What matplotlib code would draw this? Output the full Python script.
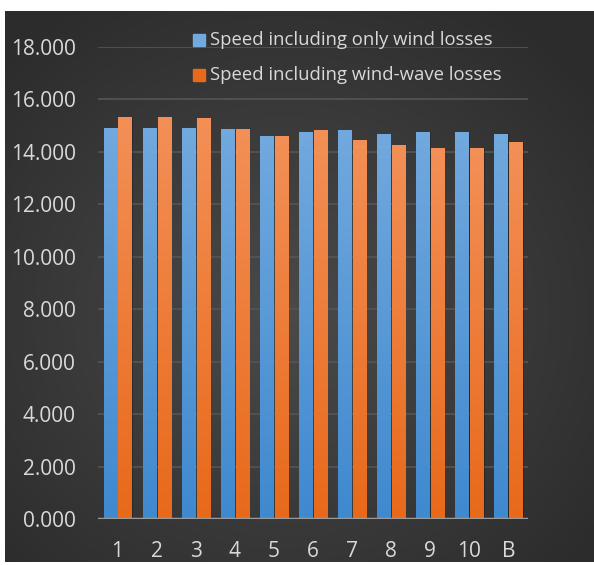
import numpy as np
import matplotlib

matplotlib.use("Agg")

import matplotlib.pyplot as plt
from matplotlib.colors import LinearSegmentedColormap
from matplotlib.patches import Rectangle

# ── data ─────────────────────────────────────────────────────────────────────

categories = ["1", "2", "3", "4", "5", "6", "7", "8", "9", "10", "B"]
wind_only = [14.92, 14.92, 14.92, 14.89, 14.62, 14.77, 14.85, 14.69, 14.77, 14.77, 14.69]
wind_wave = [15.34, 15.34, 15.31, 14.89, 14.62, 14.85, 14.47, 14.27, 14.16, 14.16, 14.39]
series_labels = ["Speed including only wind losses", "Speed including wind-wave losses"]
yticks = np.arange(0, 18.1, 2)

FONT = ["Open Sans", "DejaVu Sans"]
TEXT_COLOR = "#d9d9d9"
BLUE_TOP, BLUE_BOT = "#72a9de", "#3f89cf"
ORANGE_TOP, ORANGE_BOT = "#f39057", "#e8691a"


def gradient_bars(ax, bars, top, bottom):
    cmap = LinearSegmentedColormap.from_list("g", [bottom, top])
    grad = np.linspace(0, 1, 256).reshape(-1, 1)
    for b in bars:
        x0, y0 = b.get_x(), b.get_y()
        w, h = b.get_width(), b.get_height()
        # soft shadow to the right
        ax.add_patch(Rectangle((x0 + 0.03, y0), w, h, color="black", alpha=0.25,
                               zorder=2, lw=0))
        im = ax.imshow(grad, cmap=cmap, extent=(x0, x0 + w, y0, y0 + h),
                       origin="lower", aspect="auto", zorder=3)
        im.set_clip_path(b)
        b.set_facecolor("none")


def main():
    fig = plt.figure(figsize=(5.94, 5.65), dpi=100)
    fig.patch.set_facecolor("white")

    # dark radial background panel
    bg = fig.add_axes([5 / 594, 3 / 565, 589 / 594, 551 / 565])
    yy, xx = np.mgrid[-1:1:300j, -1:1:300j]
    r = np.sqrt((xx + 0.05) ** 2 + (yy - 0.1) ** 2)
    bgcmap = LinearSegmentedColormap.from_list("bg", ["#4a4a4a", "#2c2c2c"])
    bg.imshow(r, cmap=bgcmap, extent=(0, 1, 0, 1), aspect="auto", vmin=0, vmax=1.35)
    bg.set_axis_off()

    ax = fig.add_axes([98 / 594, 46 / 565, 430 / 594, 472 / 565])
    ax.patch.set_alpha(0)

    x = np.arange(len(categories))
    bw = 0.335
    b1 = ax.bar(x - 0.19, wind_only, bw, zorder=3, lw=0)
    b2 = ax.bar(x + 0.19, wind_wave, bw, zorder=3, lw=0)
    gradient_bars(ax, b1, BLUE_TOP, BLUE_BOT)
    gradient_bars(ax, b2, ORANGE_TOP, ORANGE_BOT)

    ax.set_xlim(-0.5, len(categories) - 0.5)
    ax.set_ylim(0, 18)
    ax.set_yticks(yticks)
    ax.set_yticklabels([f"{v:.3f}" for v in yticks], family=FONT, fontsize=15,
                       color=TEXT_COLOR)
    ax.set_xticks(x)
    ax.set_xticklabels(categories, family=FONT, fontsize=15, color=TEXT_COLOR)
    ax.tick_params(length=0, axis="y", pad=16)
    ax.tick_params(length=0, axis="x", pad=16)
    for s in ax.spines.values():
        s.set_visible(False)
    ax.grid(True, axis="y", color="#555555", lw=1.2, zorder=0)
    ax.axhline(0, color="#9a9a9a", lw=2.5, zorder=4)

    # legend drawn as marker squares + text (overlapping the plot, as in reference)
    for i, (lab, col) in enumerate(zip(series_labels, [BLUE_TOP, ORANGE_BOT])):
        yc = 565 - (40 + 35 * i)
        fig.patches.append(Rectangle((193 / 594, (yc - 6) / 565), 12 / 594, 12 / 565,
                                     transform=fig.transFigure, color=col))
        fig.text(210 / 594, yc / 565, lab, family=FONT, fontsize=13.3,
                 color=TEXT_COLOR, va="center", ha="left")

    fig.savefig("out.png", dpi=100)


if __name__ == "__main__":
    main()
